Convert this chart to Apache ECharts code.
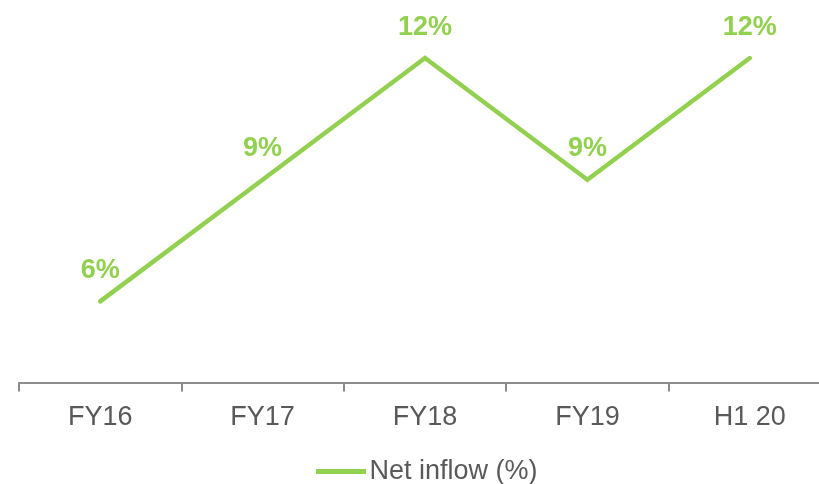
<!DOCTYPE html>
<html>
<head>
<meta charset="utf-8">
<script src="https://cdn.jsdelivr.net/npm/echarts@6/dist/echarts.min.js"></script>
<style>html,body{margin:0;padding:0;background:#fff;overflow:hidden}#c{width:840px;height:484px}</style>
</head>
<body>
<div id="c"></div>
<script>
const categories = ['FY16', 'FY17', 'FY18', 'FY19', 'H1 20'];
const netInflow = [6, 9, 12, 9, 12];
const seriesName = 'Net inflow (%)';

const chart = echarts.init(document.getElementById('c'), null, {renderer: 'canvas'});
chart.setOption({
  animation: false,
  textStyle: {fontFamily: 'Liberation Sans, Arial, sans-serif'},
  grid: {left: 19, width: 812, top: 17.5, bottom: 101.5, containLabel: false},
  legend: {
    top: 453, left: 311,
    data: [{name: seriesName, icon: 'path://M0,0 L50,0 L50,5 L0,5 Z', itemStyle: {color: '#92D050', opacity: 1}}],
    itemWidth: 51, itemHeight: 5,
    textStyle: {fontSize: 27, color: '#595959', fontFamily: 'Liberation Sans, Arial, sans-serif', padding: [0, 0, 0, -2]}
  },
  xAxis: {
    type: 'category', data: categories, boundaryGap: true,
    axisLine: {lineStyle: {color: '#8c8c8c', width: 2}},
    axisTick: {show: true, length: 9, lineStyle: {color: '#8c8c8c', width: 2}},
    axisLabel: {fontSize: 27, color: '#595959', margin: 22}
  },
  yAxis: {
    type: 'value', min: 4, max: 13, show: false, splitLine: {show: false}
  },
  series: [{
    name: seriesName, type: 'line', data: netInflow,
    symbol: 'circle', symbolSize: 1, showSymbol: true,
    lineStyle: {color: '#92D050', width: 4.5, cap: 'round', join: 'miter'},
    itemStyle: {color: '#92D050', opacity: 0},
    label: {
      show: true, position: 'top', distance: 17,
      formatter: p => p.value + '%',
      fontSize: 27, fontWeight: 'bold', color: '#92D050', opacity: 1
    }
  }]
});
</script>
</body>
</html>
